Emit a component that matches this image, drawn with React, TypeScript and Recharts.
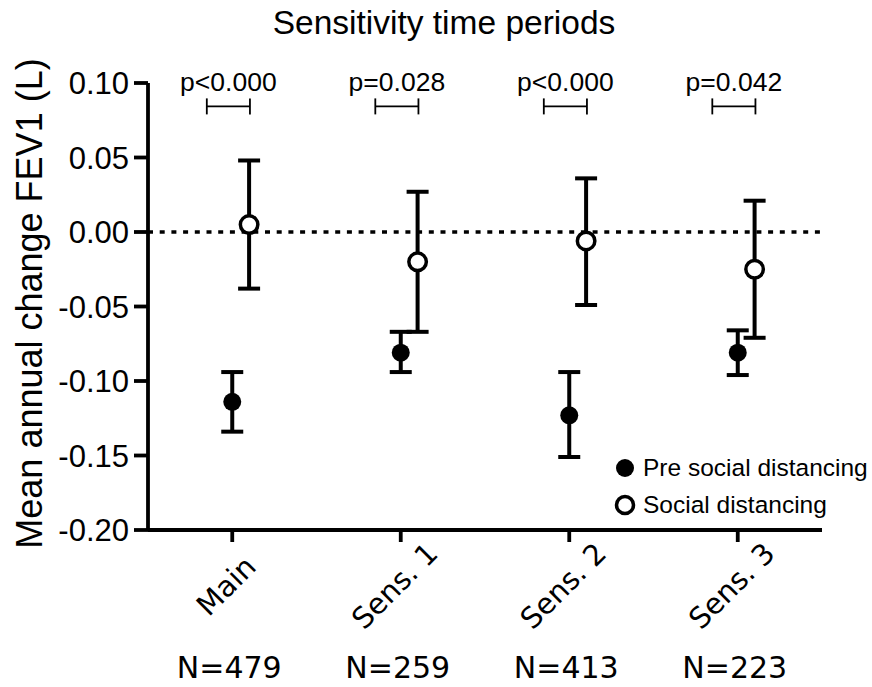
import {
  ScatterChart,
  Scatter,
  XAxis,
  YAxis,
  ErrorBar,
  ReferenceLine,
} from "recharts";

const categories = ["Main", "Sens. 1", "Sens. 2", "Sens. 3"];
const sampleSizes = ["N=479", "N=259", "N=413", "N=223"];
const pValues = ["p<0.000", "p=0.028", "p<0.000", "p=0.042"];

// pre social distancing: mean and 95% CI
const preMean = [-0.114, -0.081, -0.123, -0.081];
const preLower = [-0.134, -0.094, -0.151, -0.096];
const preUpper = [-0.094, -0.067, -0.094, -0.066];

// social distancing: mean and 95% CI
const socialMean = [0.005, -0.02, -0.006, -0.025];
const socialLower = [-0.038, -0.067, -0.049, -0.071];
const socialUpper = [0.048, 0.027, 0.036, 0.021];

const yTicks = [-0.2, -0.15, -0.1, -0.05, 0, 0.05, 0.1];

const SHIFT = 0.1; // social distancing point sits a bit right of the category
const BRACKET_Y = 0.0843;
const BRACKET_HALF = 0.128;
const BRACKET_SHIFT = -0.023;

const preData = categories.map((c, i) => ({
  x: i,
  y: preMean[i],
  err: [preMean[i] - preLower[i], preUpper[i] - preMean[i]],
}));

const socialData = categories.map((c, i) => ({
  x: i + SHIFT,
  y: socialMean[i],
  err: [socialMean[i] - socialLower[i], socialUpper[i] - socialMean[i]],
}));

const bracketData = categories.map((c, i) => ({
  x: i + BRACKET_SHIFT,
  y: BRACKET_Y,
  err: BRACKET_HALF,
  p: pValues[i],
}));

const arial = "'Liberation Sans', Arial, sans-serif";
const verdana = "'DejaVu Sans', Verdana, sans-serif";

const CategoryTick = (props: any) => {
  const { x, y, payload } = props;
  const i = payload.value;
  const lx = x + 1;
  const ly = y + 49;
  return (
    <g>
      <text
        x={lx}
        y={ly}
        textAnchor="middle"
        transform={`rotate(-45 ${lx} ${ly})`}
        fontSize={29}
        fontFamily={verdana}
        fill="#000"
      >
        {categories[i]}
      </text>
      <text
        x={x - 3}
        y={y + 134}
        textAnchor="middle"
        fontSize={30}
        fontFamily={verdana}
        fill="#000"
      >
        {sampleSizes[i]}
      </text>
    </g>
  );
};

const YTitle = (props: any) => {
  const vb = props.viewBox || { x: 0, y: 83, width: 148, height: 447 };
  const cx = vb.x + 42;
  const cy = vb.y + vb.height / 2 - 3;
  return (
    <text
      x={cx}
      y={cy}
      textAnchor="middle"
      transform={`rotate(-90 ${cx} ${cy})`}
      fontSize={36}
      fontFamily={arial}
      fill="#000"
    >
      Mean annual change FEV1 (L)
    </text>
  );
};

const LegendBox = () => (
  <div
    style={{
      position: "absolute",
      left: 614,
      top: 449,
      fontFamily: arial,
      fontSize: 24.5,
      color: "#000",
    }}
  >
    <div style={{ display: "flex", alignItems: "center", height: 37 }}>
      <svg width={22} height={22} style={{ marginRight: 7 }}>
        <circle cx={11} cy={11} r={9} fill="#000" />
      </svg>
      <span>Pre social distancing</span>
    </div>
    <div style={{ display: "flex", alignItems: "center", height: 37 }}>
      <svg width={22} height={22} style={{ marginRight: 7 }}>
        <circle cx={11} cy={11} r={8.5} fill="#fff" stroke="#000" strokeWidth={3.5} />
      </svg>
      <span>Social distancing</span>
    </div>
  </div>
);

const App = () => {
  return (
    <div
      style={{
        position: "absolute",
        left: 0,
        top: 0,
        width: 872,
        height: 687,
        background: "#fff",
      }}
    >
      <div
        style={{
          position: "absolute",
          left: 0,
          top: 6,
          width: 888,
          textAlign: "center",
          fontFamily: arial,
          fontSize: 33.5,
          lineHeight: "33px",
          color: "#000",
        }}
      >
        Sensitivity time periods
      </div>
      <ScatterChart
        width={872}
        height={687}
        margin={{ top: 83, right: 50, bottom: 0, left: 0 }}
      >
        <XAxis
          type="number"
          dataKey="x"
          domain={[-0.5, 3.5]}
          ticks={[0, 1, 2, 3]}
          interval={0}
          height={157}
          tickSize={12}
          tickMargin={2}
          axisLine={{ stroke: "#000", strokeWidth: 3.8 }}
          tickLine={{ stroke: "#000", strokeWidth: 3.8 }}
          tick={<CategoryTick />}
        />
        <YAxis
          type="number"
          dataKey="y"
          domain={[-0.2, 0.1]}
          ticks={yTicks}
          interval={0}
          width={148}
          tickSize={14}
          tickMargin={5}
          tickFormatter={(v: number) => v.toFixed(2)}
          axisLine={{ stroke: "#000", strokeWidth: 3.8 }}
          tickLine={{ stroke: "#000", strokeWidth: 3.8 }}
          tick={{ fontSize: 31, fontFamily: arial, fill: "#000" }}
          label={<YTitle />}
        />
        <ReferenceLine
          y={0}
          stroke="#000"
          strokeWidth={3.5}
          strokeDasharray="5 6.7"
        />
        <Scatter
          name="Pre social distancing"
          data={preData}
          isAnimationActive={false}
          shape={(p: any) => <circle cx={p.cx} cy={p.cy} r={9} fill="#000" />}
        >
          <ErrorBar
            dataKey="err"
            direction="y"
            width={11}
            strokeWidth={4}
            stroke="#000"
            isAnimationActive={false}
          />
        </Scatter>
        <Scatter
          name="Social distancing"
          data={socialData}
          isAnimationActive={false}
          shape={(p: any) => (
            <circle
              cx={p.cx}
              cy={p.cy}
              r={8.75}
              fill="#fff"
              stroke="#000"
              strokeWidth={3.5}
            />
          )}
        >
          <ErrorBar
            dataKey="err"
            direction="y"
            width={11}
            strokeWidth={4}
            stroke="#000"
            isAnimationActive={false}
          />
        </Scatter>
        <Scatter
          name="p"
          data={bracketData}
          isAnimationActive={false}
          legendType="none"
          shape={(p: any) => (
            <text
              x={p.cx}
              y={p.cy - 15}
              textAnchor="middle"
              fontSize={26.5}
              fontFamily={arial}
              fill="#000"
            >
              {p.payload.p}
            </text>
          )}
        >
          <ErrorBar
            dataKey="err"
            direction="x"
            width={8}
            strokeWidth={1.8}
            stroke="#000"
            isAnimationActive={false}
          />
        </Scatter>
      </ScatterChart>
      <LegendBox />
    </div>
  );
};

export default App;
